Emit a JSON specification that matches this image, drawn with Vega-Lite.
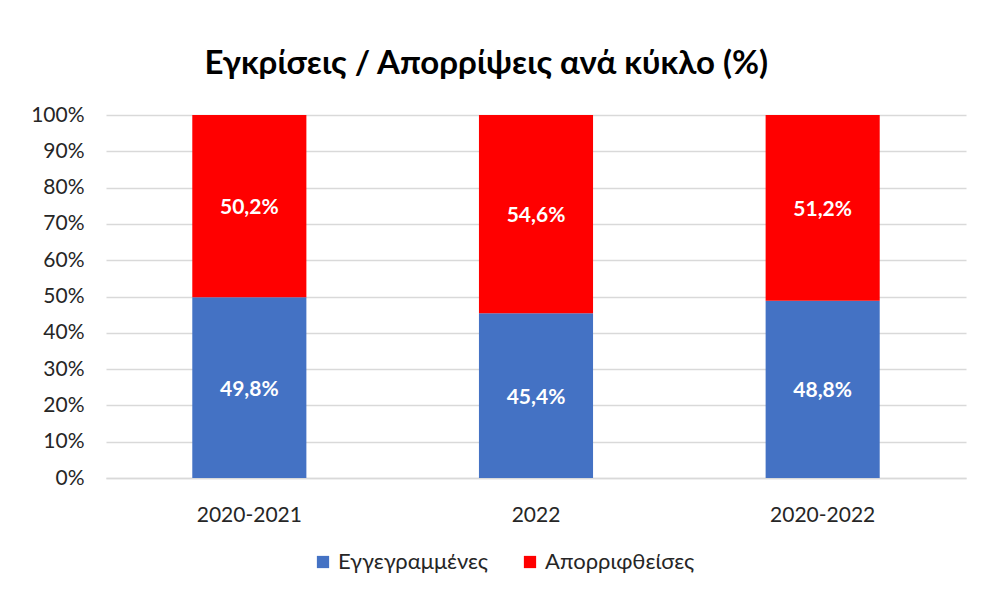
{
  "$schema": "https://vega.github.io/schema/vega-lite/v6.json",
  "width": 860,
  "height": 363,
  "autosize": {"type": "none"},
  "padding": {"left": 106, "top": 115, "right": 15, "bottom": 116},
  "background": "white",
  "config": {
    "locale": {"number": {"decimal": ",", "thousands": ".", "grouping": [3], "currency": ["", " €"]}},
    "view": {"stroke": null},
    "font": "Lato",
    "axisY": {
      "title": null,
      "format": ".0%",
      "values": [0, 0.1, 0.2, 0.3, 0.4, 0.5, 0.6, 0.7, 0.8, 0.9, 1],
      "labelOverlap": false,
      "labelFont": "Lato",
      "labelFontSize": 21,
      "labelColor": "#262626",
      "labelPadding": 22,
      "ticks": false,
      "domain": false,
      "grid": true,
      "gridColor": "#d9d9d9",
      "gridWidth": 1.5
    }
  },
  "title": {
    "text": "Εγκρίσεις / Απορρίψεις ανά κύκλο (%)",
    "font": "Lato",
    "fontSize": 33,
    "fontWeight": "bold",
    "color": "#000000",
    "anchor": "middle",
    "frame": "bounds",
    "offset": 23,
    "dx": -12
  },
  "data": {
    "values": [
      {"cycle": "2020-2021", "series": "Εγγεγραμμένες", "value": 0.498},
      {"cycle": "2020-2021", "series": "Απορριφθείσες", "value": 0.502},
      {"cycle": "2022", "series": "Εγγεγραμμένες", "value": 0.454},
      {"cycle": "2022", "series": "Απορριφθείσες", "value": 0.546},
      {"cycle": "2020-2022", "series": "Εγγεγραμμένες", "value": 0.488},
      {"cycle": "2020-2022", "series": "Απορριφθείσες", "value": 0.512}
    ]
  },
  "transform": [
    {"stack": "value", "groupby": ["cycle"], "sort": [{"field": "series", "order": "descending"}], "as": ["v0", "v1"]},
    {"calculate": "(datum.v0 + datum.v1) / 2", "as": "mid"}
  ],
  "encoding": {
    "x": {
      "field": "cycle",
      "type": "nominal",
      "sort": ["2020-2021", "2022", "2020-2022"],
      "scale": {"paddingInner": 0.602, "paddingOuter": 0.301},
      "axis": {
        "title": null,
        "labelAngle": 0,
        "labelFont": "Lato",
        "labelFontSize": 21,
        "labelColor": "#262626",
        "labelPadding": 26,
        "ticks": false,
        "domainColor": "#d9d9d9",
        "domainWidth": 1.5
      }
    }
  },
  "layer": [
    {
      "mark": {"type": "bar"},
      "encoding": {
        "y": {
          "field": "v0",
          "type": "quantitative",
          "scale": {"domain": [0, 1]},
          "axis": {"values": [0, 0.1, 0.2, 0.3, 0.4, 0.5, 0.6, 0.7, 0.8, 0.9, 1], "format": ".0%", "title": null, "labelOverlap": false}
        },
        "y2": {"field": "v1"},
        "color": {
          "field": "series",
          "type": "nominal",
          "sort": ["Εγγεγραμμένες", "Απορριφθείσες"],
          "scale": {"domain": ["Εγγεγραμμένες", "Απορριφθείσες"], "range": ["#4472C4", "#FF0000"]},
          "legend": {
            "title": null,
            "orient": "none",
            "direction": "horizontal",
            "legendX": 206,
            "legendY": 436,
            "symbolType": "square",
            "symbolSize": 150,
            "symbolStrokeWidth": 0,
            "labelFont": "Lato",
            "labelFontSize": 22,
            "labelColor": "#262626",
            "labelOffset": 4,
            "columnPadding": 30
          }
        }
      }
    },
    {
      "mark": {"type": "text", "color": "white", "fontWeight": "bold", "fontSize": 21, "font": "Lato", "baseline": "middle", "dy": 2},
      "encoding": {
        "y": {
          "field": "mid",
          "type": "quantitative",
          "axis": {"values": [0, 0.1, 0.2, 0.3, 0.4, 0.5, 0.6, 0.7, 0.8, 0.9, 1], "format": ".0%", "title": null, "labelOverlap": false}
        },
        "text": {"field": "value", "type": "quantitative", "format": ".1%"}
      }
    }
  ]
}
